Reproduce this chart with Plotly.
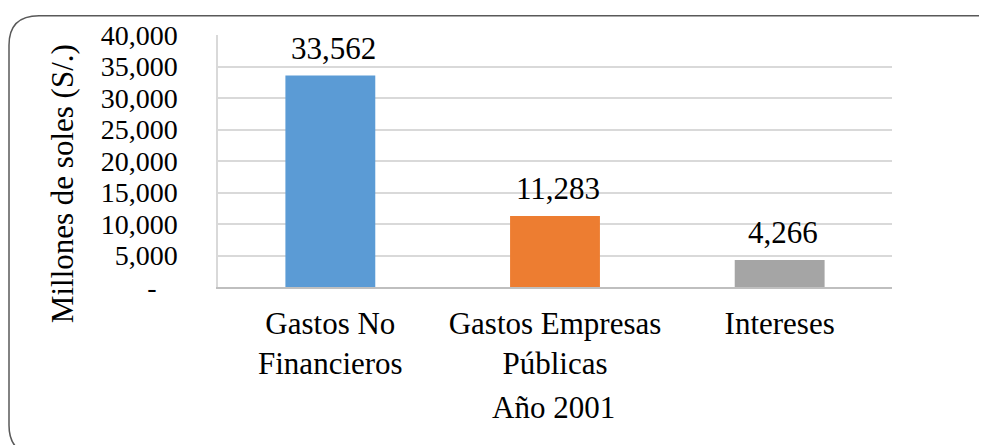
import plotly.graph_objects as go

categories = ["Gastos No<br>Financieros", "Gastos Empresas<br>Públicas", "Intereses"]
values = [33562, 11283, 4266]
bar_colors = ["#5B9BD5", "#ED7D31", "#A5A5A5"]
tick_vals = [0, 5000, 10000, 15000, 20000, 25000, 30000, 35000, 40000]
tick_text = ["-\u00a0\u00a0\u00a0", "5,000", "10,000", "15,000", "20,000", "25,000", "30,000", "35,000", "40,000"]
y_title = "Millones de soles (S/.)"
x_title = "Año 2001"

OFF = 8  # page body margin
W, H = 987 - OFF, 445 - OFF
L, T = 218 - OFF, 31.5 - OFF
pw, ph = 674, 256
R, B = W - L - pw, H - T - ph

def px(x):
    # x given in page pixels
    return (x - OFF - L) / pw

def py(y):
    return (T + ph - (y - OFF)) / ph

FONT = "Liberation Serif, Times New Roman, serif"
FS = 31
FS_Y = 28

fig = go.Figure()
fig.add_trace(go.Bar(
    x=categories, y=values, marker=dict(color=bar_colors, line=dict(width=0)),
    hoverinfo="skip", showlegend=False,
))

for c, v in zip(categories, values):
    fig.add_annotation(x=c, y=v, text=f"{v:,}", showarrow=False, yanchor="bottom",
                       yshift=8, xshift=3, font=dict(family=FONT, size=FS, color="#000000"))

# axis titles
fig.add_annotation(xref="paper", yref="paper", x=px(62), y=py(183), text=y_title,
                   textangle=-90, showarrow=False, xanchor="center", yanchor="middle",
                   font=dict(family=FONT, size=FS, color="#000000"))
fig.add_annotation(xref="paper", yref="paper", x=px(553), y=py(410), text=x_title,
                   showarrow=False, xanchor="center", yanchor="middle",
                   font=dict(family=FONT, size=FS, color="#000000"))

# rounded chart border (page pixel coords)
x0, y0, x1, y1, r = 9, 12, 1008, 458, 30
path = (
    f"M {px(x0)} {py(y0 + r)} "
    f"Q {px(x0)} {py(y0)} {px(x0 + r)} {py(y0)} "
    f"L {px(x1 - r)} {py(y0)} "
    f"Q {px(x1)} {py(y0)} {px(x1)} {py(y0 + r)} "
    f"L {px(x1)} {py(y1 - r)} "
    f"Q {px(x1)} {py(y1)} {px(x1 - r)} {py(y1)} "
    f"L {px(x0 + r)} {py(y1)} "
    f"Q {px(x0)} {py(y1)} {px(x0)} {py(y1 - r)} Z"
)
fig.add_shape(type="path", xref="paper", yref="paper", path=path,
              line=dict(color="#595959", width=1.5), fillcolor="rgba(0,0,0,0)", layer="above")

fig.update_layout(
    width=W, height=H,
    margin=dict(l=L, r=R, t=T, b=B, pad=0),
    paper_bgcolor="white", plot_bgcolor="white",
    bargap=0.6,
    font=dict(family=FONT, size=FS, color="#000000"),
    xaxis=dict(showgrid=False, showline=True, linecolor="#BFBFBF", linewidth=1.5,
               ticks="", ticklabelstandoff=8, tickfont=dict(family=FONT, size=FS, color="#000000"),
               fixedrange=True),
    yaxis=dict(range=[0, 40000], tickvals=tick_vals, ticktext=tick_text,
               showgrid=True, gridcolor="#D9D9D9", gridwidth=1.5,
               showline=True, linecolor="#D9D9D9", linewidth=1.5,
               zeroline=False, ticks="", ticklabelstandoff=33,
               tickfont=dict(family=FONT, size=FS_Y, color="#000000"), fixedrange=True),
)

fig.write_html("out.html", config={"displayModeBar": False})
